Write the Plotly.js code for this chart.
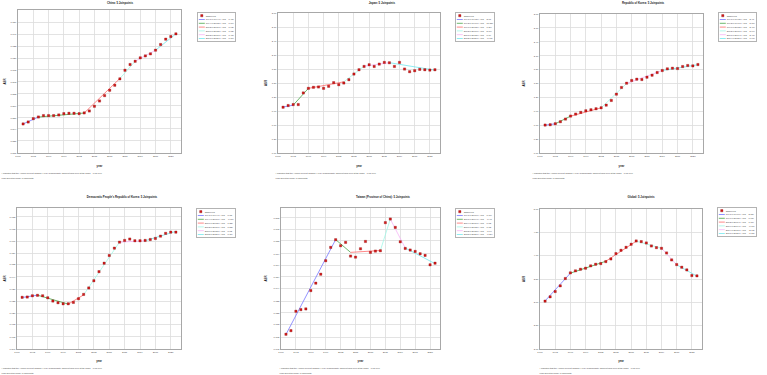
<!DOCTYPE html>
<html>
<head>
<meta charset="utf-8">
<script src="https://cdn.plot.ly/plotly-3.0.1.min.js"></script>
<style>
  html, body { margin: 0; padding: 0; overflow: hidden; background: #fff; width: 767px; height: 375px; }
  #wrap { width: 767px; height: 375px; overflow: hidden; position: relative; }
  /* the figure is laid out at 5x and shrunk, so that the tiny legend rows stay compact */
  #chart { position: absolute; left: 0; top: 0; width: 3835px; height: 1875px; transform: scale(0.2); transform-origin: 0 0; }
</style>
</head>
<body>
<div id="wrap"><div id="chart"></div></div>
<script>
const S = 5;            // layout scale factor
const W = 767, H = 375; // final page size in px

// ---- shared axes ----
const years = [1991,1992,1993,1994,1995,1996,1997,1998,1999,2000,2001,2002,2003,2004,2005,2006,2007,2008,2009,2010,2011,2012,2013,2014,2015,2016,2017,2018,2019,2020,2021];
const xTickYears = [1990,1993,1996,1999,2002,2005,2008,2011,2014,2017,2020];

// ---- China ----
const chinaObs = [0.5494,0.5515,0.5551,0.5569,0.5584,0.5584,0.5584,0.5591,0.5605,0.5609,0.5609,0.5605,0.5613,0.5634,0.5685,0.5742,0.5800,0.5858,0.5912,0.5981,0.6074,0.6136,0.6171,0.6208,0.6229,0.6251,0.6291,0.6352,0.6410,0.6438,0.6467];
const chinaJoinYears = [1991,1994,2003,2010,2013,2017,2021];
const chinaJoinFit = [0.5494,0.5568,0.5612,0.5985,0.6171,0.6290,0.6467];
const chinaApc = ['1991.0-1994.0 APC = 0.45*','1994.0-2003.0 APC = 0.09*','2003.0-2010.0 APC = 0.92*','2010.0-2013.0 APC = 1.02*','2013.0-2017.0 APC = 0.48*','2017.0-2021.0 APC = 0.70*'];
const chinaYTicks = [0.518,0.531,0.544,0.556,0.569,0.582,0.595,0.608,0.620,0.633,0.646,0.659];

// ---- Japan ----
const japanObs = [0.981,1.017,1.038,1.038,1.287,1.386,1.408,1.415,1.386,1.429,1.507,1.464,1.500,1.571,1.692,1.784,1.855,1.891,1.855,1.905,1.941,1.934,1.855,1.941,1.799,1.742,1.763,1.792,1.784,1.777,1.784];
const japanJoinYears = [1991,1993,1996,2003,2007,2012,2021];
const japanJoinFit = [0.985,1.025,1.385,1.525,1.860,1.935,1.775];
const japanApc = ['1991.0-1993.0 APC = 2.01','1993.0-1996.0 APC = 10.55*','1996.0-2003.0 APC = 1.39*','2003.0-2007.0 APC = 5.09*','2007.0-2012.0 APC = 0.79','2012.0-2021.0 APC = -0.95*'];
const japanYTicks = [0,0.3,0.6,0.9,1.2,1.5,1.8,2.1,2.4,2.7,3.0];

// ---- Republic of Korea ----
const koreaObs = [0.603,0.610,0.632,0.675,0.732,0.797,0.840,0.876,0.911,0.933,0.955,0.976,1.033,1.134,1.270,1.414,1.507,1.565,1.593,1.586,1.636,1.679,1.737,1.780,1.816,1.830,1.823,1.866,1.888,1.880,1.909];
const koreaJoinYears = [1991,1993,1996,2002,2007,2014,2021];
const koreaJoinFit = [0.600,0.630,0.795,0.975,1.500,1.780,1.905];
const koreaApc = ['1991.0-1993.0 APC = 2.47','1993.0-1996.0 APC = 8.06*','1996.0-2002.0 APC = 3.46*','2002.0-2007.0 APC = 8.99*','2007.0-2014.0 APC = 2.47*','2014.0-2021.0 APC = 0.97*'];
const koreaYTicks = [0,0.3,0.6,0.9,1.2,1.5,1.8,2.1,2.4,2.7,3.0];

// ---- Democratic People's Republic of Korea ----
const dprkObs = [0.9306,0.9308,0.9316,0.9319,0.9316,0.9303,0.9282,0.9271,0.9264,0.9264,0.9273,0.9297,0.9325,0.9367,0.9414,0.9473,0.9528,0.9578,0.9626,0.9665,0.9676,0.9685,0.9674,0.9674,0.9676,0.9682,0.9689,0.9704,0.9722,0.9730,0.9730];
const dprkJoinYears = [1991,1994,2000,2003,2010,2015,2021];
const dprkJoinFit = [0.9305,0.9320,0.9262,0.9322,0.9665,0.9674,0.9735];
const dprkApc = ['1991.0-1994.0 APC = 0.05','1994.0-2000.0 APC = -0.10*','2000.0-2003.0 APC = 0.22*','2003.0-2010.0 APC = 0.52*','2010.0-2015.0 APC = 0.02','2015.0-2021.0 APC = 0.11*'];
const dprkYTicks = [0.897,0.905,0.913,0.920,0.928,0.936,0.944,0.952,0.959,0.967,0.975,0.983];

// ---- Taiwan (Province of China) ----
const taiwanObs = [0.7047,0.7078,0.7245,0.7259,0.7265,0.7423,0.7487,0.7564,0.7680,0.7795,0.7861,0.7809,0.7838,0.7720,0.7711,0.7783,0.7846,0.7752,0.7763,0.7766,0.8008,0.8039,0.7967,0.7843,0.7786,0.7772,0.7760,0.7740,0.7726,0.7645,0.7659];
const taiwanJoinYears = [1991,2001,2004,2010,2012,2015,2021];
const taiwanJoinFit = [0.7045,0.7862,0.7752,0.7768,0.8039,0.7790,0.7655];
const taiwanApc = ['1991.0-2001.0 APC = 1.10*','2001.0-2004.0 APC = -0.47','2004.0-2010.0 APC = 0.03','2010.0-2012.0 APC = 1.73','2012.0-2015.0 APC = -1.04','2015.0-2021.0 APC = -0.29*'];
const taiwanYTicks = [0.692,0.702,0.713,0.723,0.733,0.744,0.754,0.764,0.774,0.785,0.795,0.805];

// ---- Global ----
const globalObs = [3.026,3.118,3.232,3.353,3.510,3.631,3.674,3.709,3.731,3.781,3.816,3.830,3.873,3.930,4.044,4.115,4.179,4.244,4.315,4.301,4.272,4.208,4.172,4.158,4.058,3.909,3.809,3.752,3.695,3.574,3.567];
const globalJoinYears = [1991,1996,2003,2009,2014,2017,2021];
const globalJoinFit = [3.030,3.625,3.880,4.310,4.160,3.805,3.560];
const globalApc = ['1991.0-1996.0 APC = 3.65*','1996.0-2003.0 APC = 0.98*','2003.0-2009.0 APC = 1.77*','2009.0-2014.0 APC = -0.71*','2014.0-2017.0 APC = -2.93*','2017.0-2021.0 APC = -1.65*'];
const globalYTicks = [2.0,2.5,3.0,3.5,4.0,4.5,5.0];

// segment colours used by the joinpoint fits
const segColors = ['#6f6fff','#3ea03e','#ff6060','#9cf7e6','#f5b0f5','#6ae6ec'];

const FONT = 'Liberation Sans, Arial, Helvetica, sans-serif';

// panel geometry, in page pixels: plot box [left, right, top, bottom]
const panels = [
  { title: 'China: 5 Joinpoints', obs: chinaObs, jy: chinaJoinYears, jf: chinaJoinFit, apc: chinaApc,
    yt: chinaYTicks, dec: 3, yr: [0.518, 0.6725], box: [18, 181, 10, 153], leg: [197, 12], titleX: 120, note: 1, yLab: 5 },
  { title: 'Japan: 5 Joinpoints', obs: japanObs, jy: japanJoinYears, jf: japanJoinFit, apc: japanApc,
    yt: japanYTicks, dec: 2, yr: [0, 3.0], box: [278, 440, 13, 153], leg: [455, 12], titleX: 382, note: 275, yLab: 266 },
  { title: 'Republic of Korea: 5 Joinpoints', obs: koreaObs, jy: koreaJoinYears, jf: koreaJoinFit, apc: koreaApc,
    yt: koreaYTicks, dec: 2, yr: [0, 3.0], box: [540, 703, 14, 153], leg: [718, 12], titleX: 643, note: 532, yLab: 524 },
  { title: "Democratic People's Republic of Korea: 5 Joinpoints", obs: dprkObs, jy: dprkJoinYears, jf: dprkJoinFit, apc: dprkApc,
    yt: dprkYTicks, dec: 3, yr: [0.897, 0.9887], box: [17, 181, 208, 349], leg: [196, 208], titleX: 122, note: 1, yLab: 5 },
  { title: 'Taiwan (Province of China): 5 Joinpoints', obs: taiwanObs, jy: taiwanJoinYears, jf: taiwanJoinFit, apc: taiwanApc,
    yt: taiwanYTicks, dec: 3, yr: [0.692, 0.8134], box: [281, 440, 208, 349], leg: [455, 208], titleX: 383, note: 279, yLab: 266 },
  { title: 'Global: 5 Joinpoints', obs: globalObs, jy: globalJoinYears, jf: globalJoinFit, apc: globalApc,
    yt: globalYTicks, dec: 2, yr: [2.0, 5.0], box: [540, 702, 209, 349], leg: [717, 207], titleX: 641, note: 539, yLab: 524 }
];

const px = v => v / W;
const py = v => 1 - v / H;

const traces = [];
const layout = {
  width: W * S, height: H * S,
  margin: { l: 0, r: 0, t: 0, b: 0 },
  paper_bgcolor: '#ffffff', plot_bgcolor: '#ffffff',
  font: { family: FONT, color: '#333' },
  showlegend: true,
  annotations: []
};

panels.forEach((p, i) => {
  const k = i + 1;
  const s = k === 1 ? '' : String(k);
  const legName = k === 1 ? 'legend' : 'legend' + k;
  const [x0, x1, y0, y1] = p.box;
  const row2 = y0 > 180;

  // fitted joinpoint segments
  for (let j = 0; j < p.jy.length - 1; j++) {
    traces.push({
      type: 'scatter', mode: 'lines',
      x: [p.jy[j], p.jy[j + 1]], y: [p.jf[j], p.jf[j + 1]],
      xaxis: 'x' + s, yaxis: 'y' + s, legend: legName, legendrank: 2 + j,
      name: p.apc[j],
      line: { color: segColors[j], width: 0.75 * S },
      hoverinfo: 'skip'
    });
  }
  // observed rates
  traces.push({
    type: 'scatter', mode: 'markers',
    x: years, y: p.obs,
    xaxis: 'x' + s, yaxis: 'y' + s, legend: legName, legendrank: 1,
    name: 'Observed',
    marker: { symbol: 'square', size: 2.3 * S, color: '#d41a1a', line: { color: '#800000', width: 0.3 * S } }
  });

  layout['xaxis' + s] = {
    domain: [px(x0), px(x1)], anchor: 'y' + s,
    range: [1990, 2022], tickvals: xTickYears, ticktext: xTickYears.map(String),
    showgrid: true, gridcolor: '#dcdcdc', gridwidth: 0.8 * S, zeroline: false,
    showline: true, mirror: true, linecolor: '#a8a8a8', linewidth: 1.3 * S,
    ticks: '', tickfont: { size: 2.4 * S, color: '#444', family: FONT }, fixedrange: true
  };
  layout['yaxis' + s] = {
    domain: [py(y1), py(y0)], anchor: 'x' + s,
    range: p.yr, tickvals: p.yt, ticktext: p.yt.map(v => v.toFixed(p.dec)),
    showgrid: true, gridcolor: '#dcdcdc', gridwidth: 0.8 * S, zeroline: false,
    showline: true, mirror: true, linecolor: '#a8a8a8', linewidth: 1.3 * S,
    ticks: '', tickfont: { size: 2.3 * S, color: '#444', family: FONT }, fixedrange: true
  };

  layout[legName] = {
    x: px(p.leg[0]), y: py(p.leg[1]), xanchor: 'left', yanchor: 'top',
    bgcolor: '#ffffff', bordercolor: '#a0a0a0', borderwidth: 0.8 * S,
    font: { size: 2.3 * S, color: '#444', family: FONT },
    itemwidth: 30, tracegroupgap: 0, traceorder: 'normal'
  };

  // panel title
  layout.annotations.push({
    xref: 'paper', yref: 'paper', x: px(p.titleX), y: py(row2 ? 197.5 : 2.6),
    xanchor: 'center', yanchor: 'middle', showarrow: false,
    text: p.title, font: { size: 2.8 * S, color: '#222', family: FONT, weight: 'bold' }
  });
  // axis titles
  layout.annotations.push({
    xref: 'paper', yref: 'paper', x: px((x0 + x1) / 2), y: py(row2 ? 361 : 166),
    xanchor: 'center', yanchor: 'middle', showarrow: false,
    text: 'year', font: { size: 2.8 * S, color: '#222', family: FONT, weight: 'bold' }
  });
  layout.annotations.push({
    xref: 'paper', yref: 'paper', x: px(p.yLab), y: py((y0 + y1) / 2),
    xanchor: 'center', yanchor: 'middle', showarrow: false, textangle: -90,
    text: 'ASR', font: { size: 2.8 * S, color: '#222', family: FONT, weight: 'bold' }
  });
  // footnotes
  const fy = row2 ? 368.3 : 173.3;
  layout.annotations.push({
    xref: 'paper', yref: 'paper', x: px(p.note), y: py(fy),
    xanchor: 'left', yanchor: 'middle', showarrow: false,
    text: '* Indicates that the Annual Percent Change (APC) is significantly different from zero at the alpha = 0.05 level.',
    font: { size: 2.1 * S, color: '#444', family: FONT }
  });
  layout.annotations.push({
    xref: 'paper', yref: 'paper', x: px(p.note), y: py(fy + 4.4),
    xanchor: 'left', yanchor: 'middle', showarrow: false,
    text: 'Final Selected Model: 5 Joinpoints.',
    font: { size: 2.1 * S, color: '#444', family: FONT }
  });
});

Plotly.newPlot('chart', traces, layout, { staticPlot: true, displayModeBar: false, responsive: false });
</script>
</body>
</html>
